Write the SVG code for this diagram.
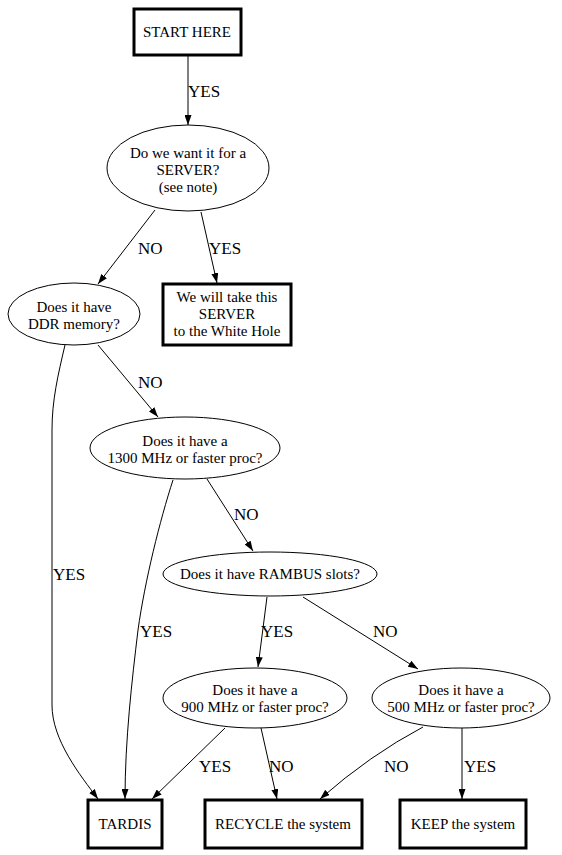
<svg xmlns="http://www.w3.org/2000/svg" width="562" height="855" viewBox="0 0 562 855">
<defs>
<marker id="arr" viewBox="0 0 10 7" refX="10" refY="3.5" markerWidth="10" markerHeight="7" markerUnits="userSpaceOnUse" orient="auto">
<path d="M0,0 L10,3.5 L0,7 Z" fill="#000"/>
</marker>
<style>
.box{fill:#fff;stroke:#000;stroke-width:3}
.ell{fill:#fff;stroke:#000;stroke-width:1}
text{font-family:'Liberation Serif','Times New Roman','DejaVu Serif',serif}
.t{font-size:15px;fill:#000;text-anchor:middle}
.lbl{font-size:17px;fill:#000}
.e{fill:none;stroke:#000;stroke-width:1;marker-end:url(#arr)}
</style>
</defs>
<rect width="562" height="855" fill="#fff"/>
<g id="edges">
<path class="e" d="M188,55 L188,125"/>
<path class="e" d="M155,210 L98,284"/>
<path class="e" d="M201,212 L217,283"/>
<path class="e" d="M98,345 L158,417"/>
<path class="e" d="M65,345 C58,375 52,400 52,430 L52,705 C52,740 80,775 98,799"/>
<path class="e" d="M207,479 L253,551"/>
<path class="e" d="M173,480 C160,520 145,580 138,630 C132,680 125,740 125,799"/>
<path class="e" d="M267,597 L258,667"/>
<path class="e" d="M303,597 L418,669"/>
<path class="e" d="M225,728 L152,799"/>
<path class="e" d="M261,728 L277,799"/>
<path class="e" d="M423,727 Q370,755 320,799"/>
<path class="e" d="M462,728 L462,799"/>
<text class="lbl" x="188" y="97">YES</text>
<text class="lbl" x="138" y="254">NO</text>
<text class="lbl" x="209" y="254">YES</text>
<text class="lbl" x="138" y="388">NO</text>
<text class="lbl" x="53" y="580">YES</text>
<text class="lbl" x="234" y="520">NO</text>
<text class="lbl" x="140" y="637">YES</text>
<text class="lbl" x="261" y="637">YES</text>
<text class="lbl" x="373" y="637">NO</text>
<text class="lbl" x="199" y="772">YES</text>
<text class="lbl" x="269" y="772">NO</text>
<text class="lbl" x="384" y="772">NO</text>
<text class="lbl" x="464" y="772">YES</text>
</g>
<g id="start"><rect class="box" x="134" y="9" width="107" height="46"/><text class="t" x="187" y="37">START HERE</text></g>
<g id="server"><ellipse class="ell" cx="188" cy="168" rx="81" ry="43"/><text class="t" x="188" y="158">Do we want it for a</text><text class="t" x="188" y="175">SERVER?</text><text class="t" x="188" y="192">(see note)</text></g>
<g id="whitehole"><rect class="box" x="163" y="284" width="128" height="61"/><text class="t" x="227" y="302">We will take this</text><text class="t" x="227" y="319">SERVER</text><text class="t" x="227" y="336">to the White Hole</text></g>
<g id="ddr"><ellipse class="ell" cx="74" cy="314" rx="66" ry="31"/><text class="t" x="74" y="312">Does it have</text><text class="t" x="74" y="329">DDR memory?</text></g>
<g id="p1300"><ellipse class="ell" cx="185" cy="448" rx="95" ry="31"/><text class="t" x="185" y="446">Does it have a</text><text class="t" x="185" y="463">1300 MHz or faster proc?</text></g>
<g id="rambus"><ellipse class="ell" cx="270" cy="574" rx="107" ry="22"/><text class="t" x="270" y="579">Does it have RAMBUS slots?</text></g>
<g id="p900"><ellipse class="ell" cx="255" cy="698" rx="92" ry="30"/><text class="t" x="255" y="695">Does it have a</text><text class="t" x="255" y="712">900 MHz or faster proc?</text></g>
<g id="p500"><ellipse class="ell" cx="461" cy="698" rx="89" ry="30"/><text class="t" x="461" y="695">Does it have a</text><text class="t" x="461" y="712">500 MHz or faster proc?</text></g>
<g id="tardis"><rect class="box" x="88" y="800" width="74" height="48"/><text class="t" x="125" y="829">TARDIS</text></g>
<g id="recycle"><rect class="box" x="205" y="800" width="157" height="48"/><text class="t" x="283" y="829">RECYCLE the system</text></g>
<g id="keep"><rect class="box" x="400" y="800" width="126" height="48"/><text class="t" x="463" y="829">KEEP the system</text></g>
</svg>
